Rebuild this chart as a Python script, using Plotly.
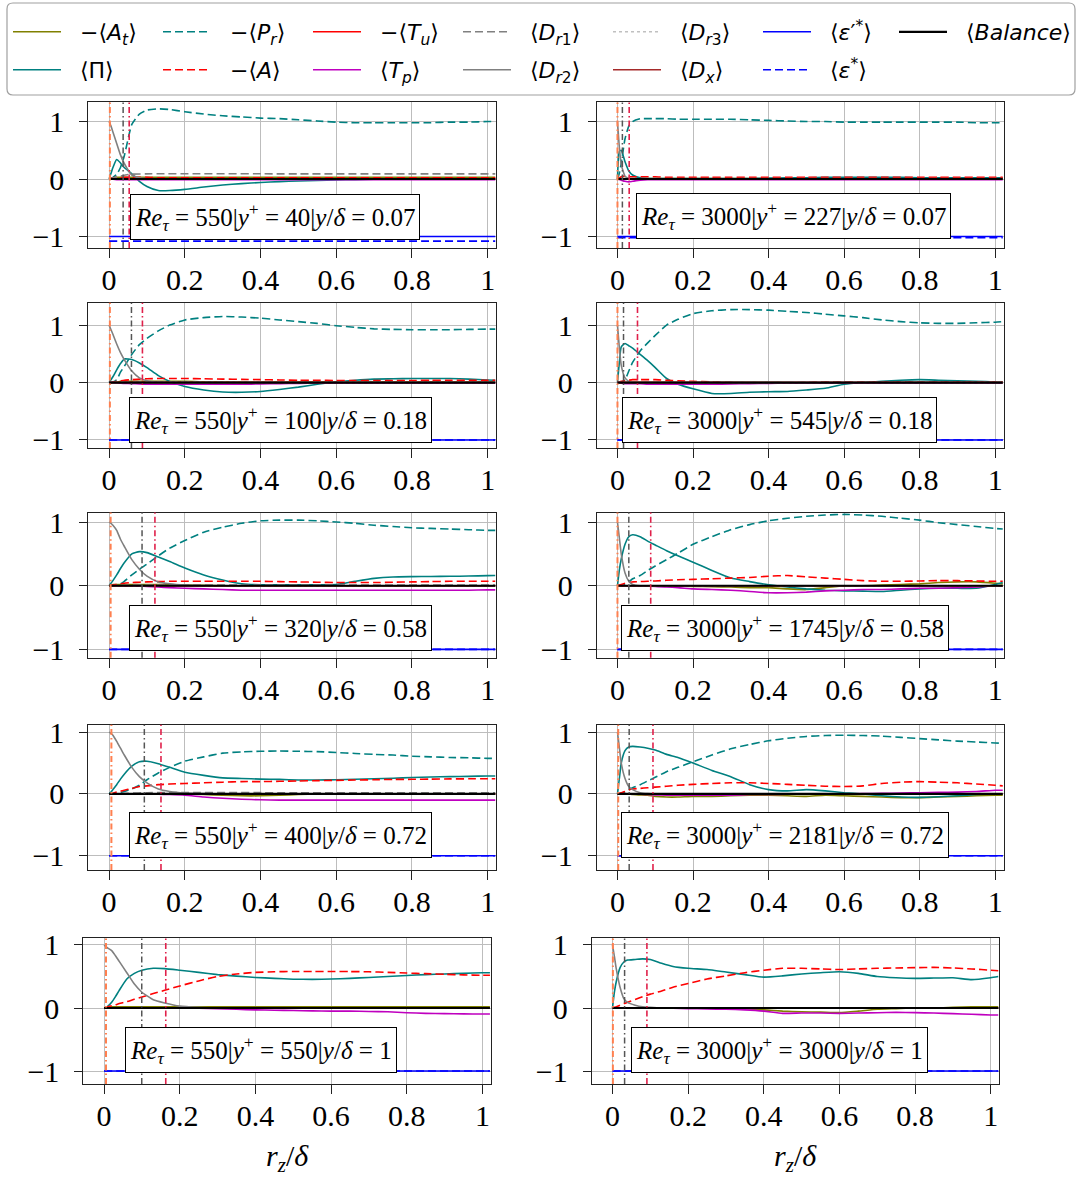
import plotly.graph_objects as go

W, H = 1077, 1178

# ---------------- data ----------------
R = [0, 0.005, 0.01, 0.02, 0.03, 0.04, 0.06, 0.08, 0.1, 0.13, 0.16, 0.2, 0.25, 0.3, 0.35,
     0.4, 0.45, 0.5, 0.55, 0.6, 0.65, 0.7, 0.75, 0.8, 0.85, 0.9, 0.95, 1.0, 1.02]
XC = [0, 0.05, 0.1, 0.5, 1.02]

RE_TAU = [550, 3000, 550, 3000, 550, 3000, 550, 3000, 550, 3000]
Y_PLUS = [40, 227, 100, 545, 320, 1745, 400, 2181, 550, 3000]
Y_DELTA = ["0.07", "0.07", "0.18", "0.18", "0.58", "0.58", "0.72", "0.72", "1", "1"]

PI = [
    [0, 0.1, 0.2, 0.34, 0.28, 0.2, 0.09, -0.04, -0.13, -0.2, -0.2, -0.18, -0.14, -0.105, -0.08, -0.06, -0.045, -0.035, -0.025, -0.015, -0.01, -0.005, 0, 0, 0, 0, 0, 0, 0],
    [0, 0.48, 0.5, 0.3, 0.14, 0.07, 0.02, 0.01, 0.01, 0.01, 0.01, 0.01, 0.01, 0.01, 0.01, 0.015, 0.02, 0.02, 0.03, 0.03, 0.03, 0.03, 0.03, 0.02, 0.02, 0.02, 0.02, 0.02, 0.02],
    [0, 0.05, 0.1, 0.22, 0.33, 0.41, 0.4, 0.34, 0.26, 0.12, 0.02, -0.07, -0.13, -0.165, -0.17, -0.155, -0.12, -0.08, -0.03, 0.01, 0.04, 0.06, 0.065, 0.07, 0.07, 0.07, 0.06, 0.045, 0.04],
    [0, 0.35, 0.62, 0.68, 0.64, 0.6, 0.49, 0.38, 0.26, 0.07, -0.03, -0.11, -0.19, -0.19, -0.17, -0.16, -0.155, -0.13, -0.1, -0.03, 0.0, 0.02, 0.04, 0.05, 0.04, 0.03, 0.02, 0.01, 0.0],
    [0, 0.04, 0.08, 0.17, 0.27, 0.36, 0.5, 0.535, 0.52, 0.45, 0.38, 0.28, 0.17, 0.09, 0.03, 0.015, 0.015, 0.015, 0.015, 0.02, 0.07, 0.115, 0.138, 0.143, 0.145, 0.148, 0.152, 0.158, 0.16],
    [0, 0.25, 0.42, 0.65, 0.77, 0.8, 0.77, 0.7, 0.64, 0.55, 0.47, 0.37, 0.24, 0.12, 0.065, 0.015, -0.02, -0.05, -0.07, -0.08, -0.085, -0.09, -0.07, -0.05, -0.04, -0.04, -0.04, 0.02, 0.05],
    [0, 0.03, 0.07, 0.15, 0.24, 0.32, 0.45, 0.52, 0.53, 0.49, 0.43, 0.35, 0.3, 0.26, 0.25, 0.24, 0.235, 0.226, 0.226, 0.23, 0.237, 0.245, 0.255, 0.265, 0.275, 0.28, 0.285, 0.29, 0.29],
    [0, 0.25, 0.5, 0.7, 0.76, 0.77, 0.76, 0.74, 0.71, 0.64, 0.59, 0.5, 0.38, 0.28, 0.15, 0.07, 0.05, 0.07, 0.05, 0.02, 0.0, -0.03, -0.05, -0.055, -0.045, -0.03, -0.01, 0.0, 0.0],
    [0, 0.01, 0.03, 0.09, 0.18, 0.28, 0.46, 0.55, 0.6, 0.63, 0.625, 0.6, 0.565, 0.53, 0.505, 0.485, 0.47, 0.457, 0.455, 0.46, 0.47, 0.485, 0.5, 0.515, 0.53, 0.54, 0.55, 0.56, 0.56],
    [0, 0.25, 0.42, 0.64, 0.73, 0.76, 0.77, 0.78, 0.77, 0.71, 0.66, 0.63, 0.61, 0.57, 0.53, 0.49, 0.51, 0.54, 0.56, 0.575, 0.55, 0.5, 0.48, 0.47, 0.475, 0.48, 0.45, 0.48, 0.5],
]

PR = [
    [0, 0.01, 0.03, 0.08, 0.2, 0.4, 0.95, 1.13, 1.2, 1.22, 1.21, 1.17, 1.13, 1.1, 1.08, 1.06, 1.05, 1.03, 1.01, 0.99, 0.98, 0.98, 0.98, 0.98, 0.98, 0.99, 0.99, 1.0, 1.0],
    [0, 0.1, 0.28, 0.7, 0.92, 1.0, 1.05, 1.05, 1.05, 1.05, 1.04, 1.04, 1.04, 1.04, 1.03, 1.02, 1.01, 1.0, 1.0, 0.99, 0.99, 0.99, 0.99, 0.99, 0.99, 0.99, 0.98, 0.98, 0.98],
    [0, 0.005, 0.01, 0.05, 0.18, 0.28, 0.49, 0.66, 0.77, 0.9, 1.0, 1.09, 1.13, 1.15, 1.14, 1.12, 1.09, 1.06, 1.03, 0.99, 0.96, 0.935, 0.925, 0.92, 0.92, 0.92, 0.925, 0.93, 0.93],
    [0, 0.0, 0.01, 0.05, 0.2, 0.35, 0.55, 0.69, 0.82, 1.0, 1.1, 1.2, 1.25, 1.27, 1.27, 1.26, 1.24, 1.22, 1.19, 1.16, 1.13, 1.09, 1.06, 1.04, 1.03, 1.03, 1.04, 1.05, 1.06],
    [0, 0.0, 0.005, 0.01, 0.03, 0.07, 0.17, 0.26, 0.34, 0.47, 0.59, 0.71, 0.84, 0.92, 0.98, 1.02, 1.03, 1.03, 1.02, 1.0, 0.98, 0.95, 0.93, 0.91, 0.9, 0.89, 0.88, 0.87, 0.87],
    [0, 0, 0.0, 0.02, 0.06, 0.11, 0.16, 0.24, 0.31, 0.41, 0.51, 0.65, 0.77, 0.88, 0.96, 1.02, 1.06, 1.09, 1.11, 1.12, 1.11, 1.09, 1.06, 1.03, 0.99, 0.96, 0.93, 0.9, 0.89],
    [0, 0, 0, 0.0, 0.02, 0.04, 0.08, 0.14, 0.23, 0.34, 0.43, 0.53, 0.6, 0.66, 0.68, 0.69, 0.695, 0.69, 0.685, 0.67, 0.655, 0.64, 0.63, 0.61, 0.6, 0.59, 0.585, 0.575, 0.575],
    [0, 0, 0.01, 0.03, 0.07, 0.1, 0.15, 0.21, 0.27, 0.36, 0.43, 0.52, 0.63, 0.73, 0.8, 0.86, 0.9, 0.93, 0.945, 0.95, 0.945, 0.935, 0.915, 0.895, 0.875, 0.855, 0.84, 0.825, 0.82],
    [0, 0, 0, 0, 0, 0, 0, 0, 0, 0, 0, 0, 0, 0, 0, 0, 0, 0, 0, 0, 0, 0, 0, 0, 0, 0, 0, 0, 0],
    [0, 0, 0, 0, 0, 0, 0, 0, 0, 0, 0, 0, 0, 0, 0, 0, 0, 0, 0, 0, 0, 0, 0, 0, 0, 0, 0, 0, 0],
]

A = [
    [0, 0.01, 0.02, 0.03, 0.03, 0.03, 0.03, 0.03, 0.03, 0.02, 0.02, 0.02, 0.02, 0.02, 0.02, 0.02, 0.02, 0.02, 0.02, 0.02, 0.02, 0.02, 0.02, 0.02, 0.02, 0.02, 0.02, 0.02, 0.02],
    [0, 0.02, 0.04, 0.05, 0.04, 0.04, 0.04, 0.04, 0.04, 0.03, 0.03, 0.03, 0.03, 0.03, 0.03, 0.03, 0.03, 0.03, 0.03, 0.03, 0.03, 0.03, 0.03, 0.03, 0.03, 0.03, 0.03, 0.03, 0.03],
    [0, 0, 0.01, 0.02, 0.03, 0.04, 0.05, 0.06, 0.065, 0.07, 0.07, 0.07, 0.065, 0.06, 0.055, 0.05, 0.045, 0.04, 0.04, 0.035, 0.035, 0.035, 0.035, 0.035, 0.04, 0.04, 0.04, 0.04, 0.04],
    [0, 0.01, 0.02, 0.03, 0.04, 0.05, 0.05, 0.05, 0.05, 0.04, 0.03, 0.02, 0.01, 0.0, -0.01, -0.01, -0.01, 0, 0.01, 0.01, 0.01, 0.01, 0.01, 0.01, 0.01, 0.01, 0.01, 0.01, 0.01],
    [0, 0.01, 0.01, 0.02, 0.03, 0.04, 0.05, 0.055, 0.06, 0.065, 0.07, 0.07, 0.07, 0.07, 0.07, 0.07, 0.065, 0.06, 0.055, 0.05, 0.05, 0.05, 0.055, 0.06, 0.065, 0.07, 0.07, 0.07, 0.07],
    [0, 0.01, 0.02, 0.04, 0.055, 0.06, 0.065, 0.07, 0.075, 0.085, 0.095, 0.1, 0.11, 0.12, 0.13, 0.15, 0.16, 0.14, 0.12, 0.1, 0.08, 0.07, 0.07, 0.075, 0.08, 0.08, 0.075, 0.07, 0.07],
    [0, 0.0, 0.01, 0.03, 0.045, 0.06, 0.09, 0.12, 0.13, 0.15, 0.16, 0.17, 0.18, 0.19, 0.2, 0.2, 0.205, 0.21, 0.215, 0.22, 0.225, 0.23, 0.235, 0.237, 0.24, 0.243, 0.245, 0.247, 0.247],
    [0, 0.01, 0.02, 0.04, 0.065, 0.08, 0.09, 0.1, 0.11, 0.125, 0.14, 0.155, 0.17, 0.18, 0.18, 0.17, 0.155, 0.14, 0.125, 0.12, 0.13, 0.17, 0.19, 0.2, 0.19, 0.18, 0.16, 0.14, 0.13],
    [0, 0.01, 0.02, 0.035, 0.05, 0.07, 0.1, 0.14, 0.175, 0.23, 0.28, 0.35, 0.43, 0.5, 0.54, 0.565, 0.575, 0.58, 0.58, 0.58, 0.578, 0.575, 0.565, 0.555, 0.545, 0.535, 0.525, 0.52, 0.52],
    [0, 0.01, 0.02, 0.045, 0.07, 0.09, 0.135, 0.18, 0.22, 0.27, 0.33, 0.39, 0.46, 0.51, 0.56, 0.6, 0.63, 0.63, 0.62, 0.61, 0.62, 0.63, 0.635, 0.64, 0.645, 0.635, 0.62, 0.6, 0.59],
]

DR2 = [
    [1, 0.92, 0.82, 0.62, 0.42, 0.27, 0.07, 0.02, 0.005, 0, 0, 0, 0, 0, 0, 0, 0, 0, 0, 0, 0, 0, 0, 0, 0, 0, 0, 0, 0],
    [1, 0.55, 0.25, 0.05, 0.01, 0, 0, 0, 0, 0, 0, 0, 0, 0, 0, 0, 0, 0, 0, 0, 0, 0, 0, 0, 0, 0, 0, 0, 0],
    [1, 0.92, 0.84, 0.67, 0.52, 0.4, 0.2, 0.08, 0.03, 0.005, 0, 0, 0, 0, 0, 0, 0, 0, 0, 0, 0, 0, 0, 0, 0, 0, 0, 0, 0],
    [1, 0.6, 0.3, 0.08, 0.02, 0, 0, 0, 0, 0, 0, 0, 0, 0, 0, 0, 0, 0, 0, 0, 0, 0, 0, 0, 0, 0, 0, 0, 0],
    [1, 0.98, 0.95, 0.87, 0.73, 0.62, 0.41, 0.26, 0.15, 0.06, 0.03, 0.01, 0, 0, 0, 0, 0, 0, 0, 0, 0, 0, 0, 0, 0, 0, 0, 0, 0],
    [1, 0.75, 0.5, 0.2, 0.07, 0.02, 0, 0, 0, 0, 0, 0, 0, 0, 0, 0, 0, 0, 0, 0, 0, 0, 0, 0, 0, 0, 0, 0, 0],
    [1, 0.98, 0.95, 0.85, 0.74, 0.63, 0.43, 0.28, 0.18, 0.08, 0.04, 0.015, 0.005, 0, 0, 0, 0, 0, 0, 0, 0, 0, 0, 0, 0, 0, 0, 0, 0],
    [1, 0.75, 0.5, 0.25, 0.12, 0.07, 0.02, 0.005, 0, 0, 0, 0, 0, 0, 0, 0, 0, 0, 0, 0, 0, 0, 0, 0, 0, 0, 0, 0, 0],
    [1, 0.97, 0.95, 0.91, 0.83, 0.74, 0.56, 0.38, 0.25, 0.13, 0.08, 0.03, 0.01, 0, 0, 0, 0, 0, 0, 0, 0, 0, 0, 0, 0, 0, 0, 0, 0],
    [1, 0.82, 0.62, 0.33, 0.15, 0.09, 0.045, 0.02, 0.01, 0, 0, 0, 0, 0, 0, 0, 0, 0, 0, 0, 0, 0, 0, 0, 0, 0, 0, 0, 0],
]

TP = [
    [0, 0, -0.005, -0.01, -0.01, -0.01, -0.01, -0.01, -0.01, -0.01, -0.01, -0.01, -0.01, -0.01, -0.01, -0.01, -0.01, -0.01, -0.01, -0.01, -0.01, -0.01, -0.01, -0.01, -0.01, -0.01, -0.01, -0.01, -0.01],
    [0, -0.01, -0.02, -0.04, -0.05, -0.04, -0.02, -0.01, -0.01, -0.01, -0.01, -0.01, -0.01, -0.01, -0.01, -0.01, -0.01, -0.01, -0.01, -0.01, -0.01, -0.01, -0.01, -0.01, -0.01, -0.01, -0.01, -0.01, -0.01],
    [0, 0, 0, -0.005, -0.01, -0.015, -0.02, -0.025, -0.03, -0.03, -0.03, -0.03, -0.03, -0.03, -0.03, -0.025, -0.02, -0.015, -0.01, -0.01, -0.01, -0.01, -0.01, -0.01, -0.01, -0.01, -0.01, -0.01, -0.01],
    [0, 0, -0.01, -0.02, -0.02, -0.02, -0.02, -0.03, -0.03, -0.03, -0.03, -0.03, -0.03, -0.025, -0.02, -0.015, -0.01, -0.01, -0.01, -0.01, -0.01, -0.01, -0.01, -0.01, -0.01, -0.01, -0.01, -0.01, -0.01],
    [0, 0, 0, 0, 0, 0, 0, -0.005, -0.01, -0.02, -0.03, -0.04, -0.05, -0.06, -0.07, -0.07, -0.07, -0.07, -0.07, -0.07, -0.07, -0.07, -0.07, -0.07, -0.07, -0.07, -0.07, -0.065, -0.065],
    [0, 0, 0, 0, 0, 0, -0.005, -0.008, -0.01, -0.02, -0.03, -0.05, -0.06, -0.07, -0.09, -0.11, -0.11, -0.1, -0.08, -0.07, -0.06, -0.06, -0.05, -0.04, -0.04, -0.03, -0.02, 0.0, 0.0],
    [0, 0, 0, 0, 0, 0, 0, 0, 0, -0.005, -0.01, -0.02, -0.05, -0.07, -0.085, -0.095, -0.1, -0.1, -0.1, -0.1, -0.1, -0.1, -0.1, -0.1, -0.1, -0.1, -0.1, -0.1, -0.1],
    [0, 0, 0, 0, 0, 0, -0.005, -0.01, -0.015, -0.02, -0.02, -0.02, -0.02, -0.02, -0.01, -0.01, -0.005, 0, 0, 0, 0.005, 0.01, 0.015, 0.02, 0.025, 0.03, 0.04, 0.06, 0.06],
    [0, 0, 0, 0, 0, 0, 0, 0, 0, 0, 0, 0, -0.005, -0.01, -0.02, -0.03, -0.035, -0.04, -0.045, -0.05, -0.05, -0.055, -0.06, -0.075, -0.085, -0.09, -0.093, -0.095, -0.095],
    [0, 0, 0, 0, 0, 0, 0, 0, 0, 0, -0.005, -0.01, -0.015, -0.02, -0.03, -0.05, -0.085, -0.08, -0.08, -0.085, -0.08, -0.075, -0.07, -0.074, -0.08, -0.09, -0.1, -0.11, -0.11],
]

AT = [
    [0, 0.01, 0.02, 0.03, 0.03, 0.03, 0.03, 0.03, 0.03, 0.03, 0.03, 0.03, 0.03, 0.03, 0.03, 0.03, 0.03, 0.03, 0.03, 0.03, 0.03, 0.03, 0.03, 0.03, 0.03, 0.03, 0.03, 0.03, 0.03],
    [0, 0.01, 0.01, 0.01, 0.01, 0.01, 0.01, 0.01, 0.01, 0.01, 0.01, 0.01, 0.01, 0.01, 0.01, 0.01, 0.01, 0.01, 0.01, 0.01, 0.01, 0.01, 0.01, 0.01, 0.01, 0.01, 0.01, 0.01, 0.01],
    [0, 0, 0.01, 0.01, 0.02, 0.02, 0.02, 0.02, 0.02, 0.02, 0.02, 0.02, 0.01, 0.01, 0.01, 0.01, 0.01, 0.01, 0.01, 0.01, 0.01, 0.01, 0.01, 0.01, 0.01, 0.01, 0.01, 0.01, 0.01],
    [0, 0, 0, 0, 0, 0, 0, 0, 0, 0, 0, 0, 0, 0, 0, 0, -0.005, -0.01, -0.01, -0.01, -0.005, 0, 0, 0, 0, 0, 0, 0, 0],
    [0, 0.01, 0.02, 0.02, 0.02, 0.02, 0.02, 0.02, 0.02, 0.02, 0.015, 0.01, 0.005, 0, 0, 0, 0, 0, 0, 0, 0, 0, 0, 0, 0, 0, 0, 0, 0],
    [0, 0, 0, 0, 0, 0, 0, 0, 0, -0.005, -0.005, -0.01, -0.015, -0.02, -0.03, -0.03, -0.05, -0.06, -0.03, 0.0, 0.0, 0.01, 0.02, 0.03, 0.05, 0.06, 0.06, 0.04, 0.03],
    [0, 0, 0, 0, 0, 0, 0, 0, 0, 0, 0, 0, -0.01, -0.02, -0.03, -0.03, -0.02, -0.01, 0, 0, 0, 0, 0, 0, 0, 0, 0, 0, 0],
    [0, 0, 0, 0, 0, -0.01, -0.015, -0.02, -0.04, -0.05, -0.05, -0.04, -0.04, -0.03, -0.02, -0.02, -0.03, -0.04, -0.02, -0.03, -0.04, -0.05, -0.06, -0.06, -0.05, -0.04, -0.03, -0.02, -0.02],
    [0, 0.01, 0.01, 0.02, 0.02, 0.02, 0.02, 0.02, 0.02, 0.02, 0.02, 0.02, 0.02, 0.02, 0.02, 0.02, 0.02, 0.02, 0.02, 0.02, 0.02, 0.02, 0.02, 0.02, 0.02, 0.02, 0.02, 0.02, 0.02],
    [0, 0, 0, 0, 0, 0, 0, 0, 0, 0, 0, 0, 0, 0, -0.01, -0.03, -0.05, -0.06, -0.065, -0.074, -0.05, -0.02, -0.01, 0.0, 0.0, 0.01, 0.02, 0.02, 0.02],
]

DR1 = [
    [0, 0.08, 0.09, 0.09, 0.09],
    [0, 0.01, 0.01, 0.01, 0.01],
    [0, 0.01, 0.01, 0.01, 0.01],
    [0, 0, 0, 0, 0],
    [0, 0.01, 0.01, 0.01, 0.01],
    [0, 0, 0, 0, 0],
    [0, 0.01, 0.02, 0.02, 0.02],
    [0, 0, 0, 0, 0],
    [0, 0, 0, 0, 0],
    [0, 0, 0, 0, 0],
]
TU = [0, 0, 0, 0, 0]
DR3 = [0, 0, 0, 0, 0]
DX = [0, 0, 0, 0, 0]
BAL = [0, 0, 0, 0, 0]
EPS_P = [-1, -1, -1, -1, -1]
EPS_S_LEVEL = [-1.08, -1.02, -1.0, -1.0, -1.0, -1.0, -1.0, -1.0, -1.0, -1.0]

VL_ORANGE = [0.002, 0.0, 0.002, 0.0, 0.004, 0.0, 0.006, 0.002, 0.005, 0.001]
VL_GRAY = [0.037, 0.013, 0.059, 0.016, 0.087, 0.030, 0.093, 0.031, 0.0995, 0.032]
VL_RED = [0.053, 0.031, 0.088, 0.053, 0.121, 0.088, 0.137, 0.094, 0.163, 0.091]

X_TICKS = [0, 0.2, 0.4, 0.6, 0.8, 1]
Y_TICKS = [-1, 0, 1]

# ---------------- layout geometry (pixels) ----------------
XDOM_PX = [[(88.3, 496.0), (596.7, 1003.5)]] * 4 + [[(83.3, 490.7), (591.7, 999.0)]]
YDOM_PX = [(102, 248), (302.7, 448), (512.5, 657.7), (724.7, 870), (938.3, 1084)]
YRANGES = [(-1.20, 1.34), (-1.14, 1.39), (-1.13, 1.15), (-1.23, 1.12), (-1.206, 1.106)]
XRANGE = (-0.055, 1.022)
BOX_PX = [(274.5, 216.5), (793.5, 215.7), (280, 420.3), (779, 420), (280, 627.8),
          (784.5, 627.8), (280.3, 834.7), (784.5, 834.7), (260.5, 1049.7), (779.8, 1049.7)]

DASH = "8px,4px"
DASHDOT = "6px,3px,1.5px,3px"
SP = "\u00a0\u00a0"

STYLE = {
    "AT":   (SP + "−⟨<i>A</i><sub><i>t</i></sub>⟩", "#808000", "solid", 1.6, 1, "legend"),
    "PI":   (SP + "⟨Π⟩", "#008080", "solid", 1.6, 1, "legend2"),
    "PR":   (SP + "−⟨<i>P</i><sub><i>r</i></sub>⟩", "#008080", DASH, 1.6, 2, "legend"),
    "A":    (SP + "−⟨<i>A</i>⟩", "#ff0000", DASH, 1.6, 2, "legend2"),
    "TU":   (SP + "−⟨<i>T</i><sub><i>u</i></sub>⟩", "#ff0000", "solid", 1.6, 3, "legend"),
    "TP":   (SP + "⟨<i>T</i><sub><i>p</i></sub>⟩", "#bf00bf", "solid", 1.6, 3, "legend2"),
    "DR1":  (SP + "⟨<i>D</i><sub><i>r</i>1</sub>⟩", "#808080", DASH, 1.6, 4, "legend"),
    "DR2":  (SP + "⟨<i>D</i><sub><i>r</i>2</sub>⟩", "#808080", "solid", 1.6, 4, "legend2"),
    "DR3":  (SP + "⟨<i>D</i><sub><i>r</i>3</sub>⟩", "#c0c0c0", "dot", 1.6, 5, "legend"),
    "DX":   (SP + "⟨<i>D</i><sub><i>x</i></sub>⟩", "#a52a2a", "solid", 1.6, 5, "legend2"),
    "EPSP": (SP + "⟨<i>ε</i>′<sup>*</sup>⟩", "#0000ff", "solid", 1.6, 6, "legend"),
    "EPSS": (SP + "⟨<i>ε</i><sup>*</sup>⟩", "#0000ff", DASH, 1.6, 6, "legend2"),
    "BAL":  (SP + "⟨<i>Balance</i>⟩", "#000000", "solid", 2.2, 7, "legend3"),
}

fig = go.Figure()
layout = {}
shapes = []
annotations = []

for i in range(10):
    r, c = divmod(i, 2)
    sfx = "" if i == 0 else str(i + 1)
    xa, ya = "x" + sfx, "y" + sfx

    series = [
        ("AT", R, AT[i]),
        ("PI", R, PI[i]),
        ("PR", R, PR[i]),
        ("A", R, A[i]),
        ("TU", XC, TU),
        ("TP", R, TP[i]),
        ("DR1", XC, DR1[i]),
        ("DR2", R, DR2[i]),
        ("DR3", XC, DR3),
        ("DX", XC, DX),
        ("EPSP", XC, EPS_P),
        ("EPSS", XC, [EPS_S_LEVEL[i]] * len(XC)),
        ("BAL", XC, BAL),
    ]
    for key, xs, ys in series:
        name, color, dash, width, rank, leg = STYLE[key]
        fig.add_trace(go.Scatter(
            x=xs, y=ys, mode="lines", name=name,
            line=dict(color=color, dash=dash, width=width, shape="spline", smoothing=0.5),
            xaxis=xa, yaxis=ya, showlegend=(i == 0), legendrank=rank, legend=leg,
            hoverinfo="skip"))

    xd = XDOM_PX[r][c]
    yd = YDOM_PX[r]
    layout["xaxis" + sfx] = dict(
        domain=[xd[0] / W, xd[1] / W], range=list(XRANGE), anchor=ya,
        tickvals=X_TICKS, showgrid=True, gridcolor="#bdbdbd", gridwidth=1.2,
        zeroline=False, showline=True, mirror=True, linecolor="#222", linewidth=1,
        ticks="outside", ticklen=9, tickcolor="#222", ticklabelstandoff=-4,
        tickfont=dict(family="Liberation Serif", size=30, color="black"))
    layout["yaxis" + sfx] = dict(
        domain=[1 - yd[1] / H, 1 - yd[0] / H], range=list(YRANGES[r]), anchor=xa,
        tickvals=Y_TICKS, showgrid=True, gridcolor="#bdbdbd", gridwidth=1.2,
        zeroline=False, showline=True, mirror=True, linecolor="#222", linewidth=1,
        ticks="outside", ticklen=8, tickcolor="#222", ticklabelstandoff=9,
        tickfont=dict(family="Liberation Serif", size=30, color="black"))

    for xv, col, wd in ((VL_ORANGE[i], "#ff8050", 2.0), (VL_GRAY[i], "#555555", 1.5),
                        (VL_RED[i], "#e0204a", 1.6)):
        shapes.append(dict(type="line", xref=xa, yref=ya + " domain", x0=xv, x1=xv, y0=0, y1=1,
                           line=dict(color=col, width=wd, dash=DASHDOT)))

    bx, by = BOX_PX[i]
    txt = (f"<i>Re</i><sub><i>τ</i></sub> = {RE_TAU[i]}|<i>y</i><sup>+</sup> = {Y_PLUS[i]}|"
           f"<i>y</i>/<i>δ</i> = {Y_DELTA[i]}")
    annotations.append(dict(text=txt, xref="paper", yref="paper", x=bx / W, y=1 - by / H,
                            xanchor="center", yanchor="middle", showarrow=False,
                            font=dict(family="Liberation Serif", size=25, color="black"),
                            bgcolor="white", bordercolor="black", borderwidth=1, borderpad=4))

for cx in (287, 795):
    annotations.append(dict(text="<i>r</i><sub><i>z</i></sub>/<i>δ</i>", xref="paper", yref="paper",
                            x=cx / W, y=1 - 1158 / H, xanchor="center", yanchor="middle",
                            showarrow=False,
                            font=dict(family="Liberation Serif", size=30, color="black")))

# rounded legend frame
def px(x):
    return x / W


def py(y):
    return 1 - y / H


L0, L1, T0, T1, RAD = 7, 1075, 3, 95, 6
frame_path = (f"M {px(L0 + RAD)},{py(T0)} L {px(L1 - RAD)},{py(T0)} "
              f"Q {px(L1)},{py(T0)} {px(L1)},{py(T0 + RAD)} L {px(L1)},{py(T1 - RAD)} "
              f"Q {px(L1)},{py(T1)} {px(L1 - RAD)},{py(T1)} L {px(L0 + RAD)},{py(T1)} "
              f"Q {px(L0)},{py(T1)} {px(L0)},{py(T1 - RAD)} L {px(L0)},{py(T0 + RAD)} "
              f"Q {px(L0)},{py(T0)} {px(L0 + RAD)},{py(T0)} Z")
shapes.append(dict(type="path", xref="paper", yref="paper", path=frame_path,
                   line=dict(color="#a0a0a0", width=1.2), fillcolor="rgba(0,0,0,0)"))

legend_common = dict(orientation="h", xanchor="left", yanchor="middle",
                     entrywidth=87, entrywidthmode="pixels", itemwidth=48,
                     font=dict(family="DejaVu Sans", size=22, color="black"),
                     borderwidth=0, bgcolor="rgba(0,0,0,0)")
legend_last = dict(legend_common, entrywidth=120)

fig.update_layout(
    width=W, height=H, margin=dict(l=0, r=0, t=0, b=0, autoexpand=False),
    paper_bgcolor="white", plot_bgcolor="white",
    shapes=shapes, annotations=annotations,
    legend=dict(x=8 / W, y=1 - 32 / H, **legend_common),
    legend2=dict(x=8 / W, y=1 - 70 / H, **legend_common),
    legend3=dict(x=894 / W, y=1 - 32 / H, **legend_last),
    **layout,
)

fig.write_html("out.html", config={"displayModeBar": False},
               post_script="document.body.style.margin='0px';document.body.style.overflow='hidden';")
